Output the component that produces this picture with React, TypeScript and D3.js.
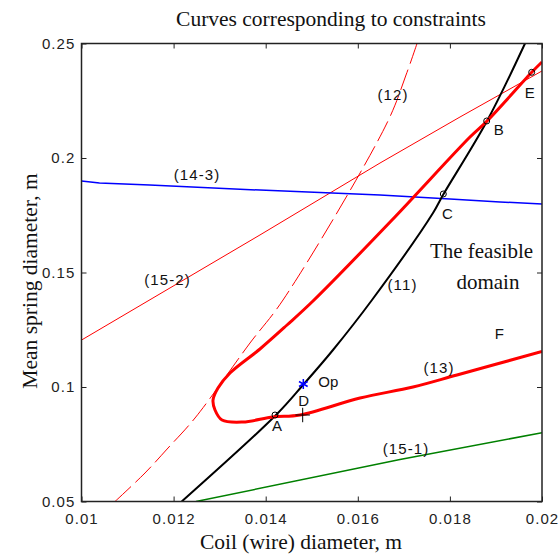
import React, { useEffect, useRef } from 'react'
import * as d3 from 'd3'

const xTicks = [0.01, 0.012, 0.014, 0.016, 0.018, 0.02]
const yTicks = [0.05, 0.1, 0.15, 0.2, 0.25]

// constraint (11), black
const c11X = [0.012176, 0.014245, 0.01481, 0.015461, 0.016308, 0.017633, 0.01785, 0.018806, 0.019631]
const c11Y = [0.05, 0.08821, 0.10087, 0.11616, 0.13799, 0.17598, 0.18384, 0.21616, 0.25]

// constraint (12), red dashed
const c12X = [0.010727, 0.011379, 0.011879, 0.012465, 0.013659, 0.014376, 0.016634, 0.017047, 0.017286]
const c12Y = [0.05, 0.06245, 0.07336, 0.08646, 0.11921, 0.13799, 0.21528, 0.23624, 0.25]

// constraint (13), thick red, traced from the lower right round the nose to the upper right
const c13X = [0.02, 0.018154, 0.017199, 0.016048, 0.014745, 0.014159, 0.013507, 0.013051, 0.012899, 0.012856,
  0.012964, 0.013225, 0.013876, 0.014463, 0.015027, 0.016743, 0.018436, 0.018806, 0.019783, 0.02]
const c13Y = [0.1155, 0.10524, 0.1, 0.0952, 0.08777, 0.0869, 0.08472, 0.08559, 0.08996, 0.09432,
  0.09956, 0.10611, 0.11660, 0.12707, 0.13755, 0.17293, 0.20917, 0.21616, 0.23755, 0.24192]

// constraint (14-3), blue
const c143X = [0.01, 0.01039, 0.01148, 0.013876, 0.016482, 0.018002, 0.019088, 0.02]
const c143Y = [0.19, 0.1891, 0.1882, 0.186, 0.1838, 0.1821, 0.1808, 0.1799]

// constraint (15-1), green
const c151X = [0.012486, 0.016916, 0.02]
const c151Y = [0.05, 0.06834, 0.08004]

// constraint (15-2), thin red
const c152X = [0.01, 0.013876, 0.016482, 0.018219, 0.02]
const c152Y = [0.1205, 0.1664, 0.1978, 0.2179, 0.238]

// labelled points
const circleNames = ['A', 'C', 'B', 'E']
const circleX = [0.014202, 0.017857, 0.018799, 0.019776]
const circleY = [0.08777, 0.18428, 0.21616, 0.23742]
const circleDx = [2, 4, 12, -2]
const circleDy = [16, 25, 14, 26]

const opX = 0.014817
const opY = 0.10131
const dX = 0.014803
const dY = 0.08777

// curve labels
const curveNames = ['(12)', '(14-3)', '(15-2)', '(11)', '(13)', '(15-1)', 'F']
const curveNameX = [0.016764, 0.012508, 0.011868, 0.016971, 0.017763, 0.017047, 0.019088]
const curveNameY = [0.22533, 0.19039, 0.14454, 0.14236, 0.10611, 0.07074, 0.12096]

const W = 559
const H = 554
const SANS = '"Liberation Sans", Arial, sans-serif'
const SERIF = '"Liberation Serif", "Times New Roman", serif'

const zip = (xs: number[], ys: number[]) => xs.map((x, i) => [x, ys[i]] as [number, number])

const App = () => {
  const svgRef = useRef<SVGSVGElement>(null)

  useEffect(() => {
    const svg = d3.select(svgRef.current)
    svg.selectAll('*').remove()

    const x = d3.scaleLinear().domain([0.01, 0.02]).range([81.5, 542])
    const y = d3.scaleLinear().domain([0.05, 0.25]).range([501.5, 43.5])

    svg.append('rect').attr('width', W).attr('height', H).attr('fill', '#fff')

    svg.append('defs').append('clipPath').attr('id', 'plot')
      .append('rect')
      .attr('x', x(0.01)).attr('y', y(0.25))
      .attr('width', x(0.02) - x(0.01)).attr('height', y(0.05) - y(0.25))

    const styleAxis = (g: any) => {
      g.select('.domain').remove()
      g.selectAll('line').attr('stroke', '#222').attr('stroke-width', 1)
      g.selectAll('text')
        .attr('font-family', SANS)
        .attr('font-size', 15)
        .attr('letter-spacing', 1.1)
        .attr('fill', '#222')
    }

    svg.append('g')
      .attr('transform', `translate(0,${y(0.05)})`)
      .call(d3.axisBottom(x).tickValues(xTicks).tickSize(-5).tickPadding(12).tickFormat((d: any) => String(d)))
      .call(styleAxis)
    svg.append('g')
      .attr('transform', `translate(${x(0.01)},0)`)
      .call(d3.axisLeft(y).tickValues(yTicks).tickSize(-5).tickPadding(6).tickFormat((d: any) => String(d)))
      .call(styleAxis)
    svg.append('g')
      .attr('transform', `translate(0,${y(0.25)})`)
      .call(d3.axisTop(x).tickValues(xTicks).tickSize(-5).tickFormat(() => ''))
      .call(styleAxis)
    svg.append('g')
      .attr('transform', `translate(${x(0.02)},0)`)
      .call(d3.axisRight(y).tickValues(yTicks).tickSize(-5).tickFormat(() => ''))
      .call(styleAxis)

    const plot = svg.append('g').attr('clip-path', 'url(#plot)')
    const smooth = d3.line().x(d => x(d[0])).y(d => y(d[1])).curve(d3.curveCatmullRom)
    const straight = d3.line().x(d => x(d[0])).y(d => y(d[1]))

    plot.append('path').attr('d', straight(zip(c152X, c152Y)))
      .attr('fill', 'none').attr('stroke', '#ff0000').attr('stroke-width', 1)
    plot.append('path').attr('d', straight(zip(c143X, c143Y)))
      .attr('fill', 'none').attr('stroke', '#0000ff').attr('stroke-width', 1.5)
    plot.append('path').attr('d', straight(zip(c151X, c151Y)))
      .attr('fill', 'none').attr('stroke', '#008000').attr('stroke-width', 1.5)
    plot.append('path').attr('d', smooth(zip(c12X, c12Y)))
      .attr('fill', 'none').attr('stroke', '#ff0000').attr('stroke-width', 1)
      .attr('stroke-dasharray', '22,6')
    plot.append('path').attr('d', smooth(zip(c11X, c11Y)))
      .attr('fill', 'none').attr('stroke', '#000').attr('stroke-width', 2)
    plot.append('path').attr('d', smooth(zip(c13X, c13Y)))
      .attr('fill', 'none').attr('stroke', '#ff0000').attr('stroke-width', 3)

    // box
    svg.append('rect')
      .attr('x', x(0.01)).attr('y', y(0.25))
      .attr('width', x(0.02) - x(0.01)).attr('height', y(0.05) - y(0.25))
      .attr('fill', 'none').attr('stroke', '#222').attr('stroke-width', 1.5)

    // circles and their letters
    circleNames.forEach((name, i) => {
      const cx = x(circleX[i])
      const cy = y(circleY[i])
      svg.append('circle').attr('cx', cx).attr('cy', cy).attr('r', 3)
        .attr('fill', 'none').attr('stroke', '#000').attr('stroke-width', 1)
      svg.append('text').attr('x', cx + circleDx[i]).attr('y', cy + circleDy[i])
        .attr('text-anchor', 'middle').attr('font-family', SANS).attr('font-size', 15)
        .attr('fill', '#111').text(name)
    })

    // optimum star
    svg.append('path')
      .attr('transform', `translate(${x(opX)},${y(opY)})`)
      .attr('d', d3.symbol(d3.symbolAsterisk, 70)())
      .attr('fill', 'none').attr('stroke', '#0000ff').attr('stroke-width', 1.5)
    svg.append('text').attr('x', x(opX) + 15).attr('y', y(opY) + 3)
      .attr('font-family', SANS).attr('font-size', 15).attr('fill', '#111').text('Op')

    // point D
    svg.append('path')
      .attr('transform', `translate(${x(dX)},${y(dY)})`)
      .attr('d', d3.symbol(d3.symbolPlus, 70)())
      .attr('fill', 'none').attr('stroke', '#000').attr('stroke-width', 1)
    svg.append('text').attr('x', x(dX) + 1).attr('y', y(dY) - 9)
      .attr('text-anchor', 'middle').attr('font-family', SANS).attr('font-size', 15)
      .attr('fill', '#111').text('D')

    curveNames.forEach((name, i) => {
      svg.append('text').attr('x', x(curveNameX[i])).attr('y', y(curveNameY[i]))
        .attr('text-anchor', 'middle').attr('font-family', SANS).attr('font-size', 15)
        .attr('letter-spacing', 1.1).attr('fill', '#111').text(name)
    })

    svg.append('text').attr('x', x(0.018686)).attr('y', y(0.15633))
      .attr('text-anchor', 'middle').attr('font-family', SERIF).attr('font-size', 21)
      .attr('fill', '#111').text('The feasible')
    svg.append('text').attr('x', x(0.018827)).attr('y', y(0.14279))
      .attr('text-anchor', 'middle').attr('font-family', SERIF).attr('font-size', 21)
      .attr('fill', '#111').text('domain')

    svg.append('text').attr('x', 331).attr('y', 25.5)
      .attr('text-anchor', 'middle').attr('font-family', SERIF).attr('font-size', 21.5)
      .attr('fill', '#111').text('Curves corresponding to constraints')
    svg.append('text').attr('x', 301).attr('y', 549)
      .attr('text-anchor', 'middle').attr('font-family', SERIF).attr('font-size', 21.5)
      .attr('fill', '#111').text('Coil (wire) diameter, m')
    svg.append('text').attr('transform', 'translate(37,281) rotate(-90)')
      .attr('text-anchor', 'middle').attr('font-family', SERIF).attr('font-size', 21.5)
      .attr('fill', '#111').text('Mean spring diameter, m')
  }, [])

  return (
    <svg ref={svgRef} width={W} height={H}
      style={{ position: 'absolute', left: 0, top: 0, display: 'block' }} />
  )
}

export default App
